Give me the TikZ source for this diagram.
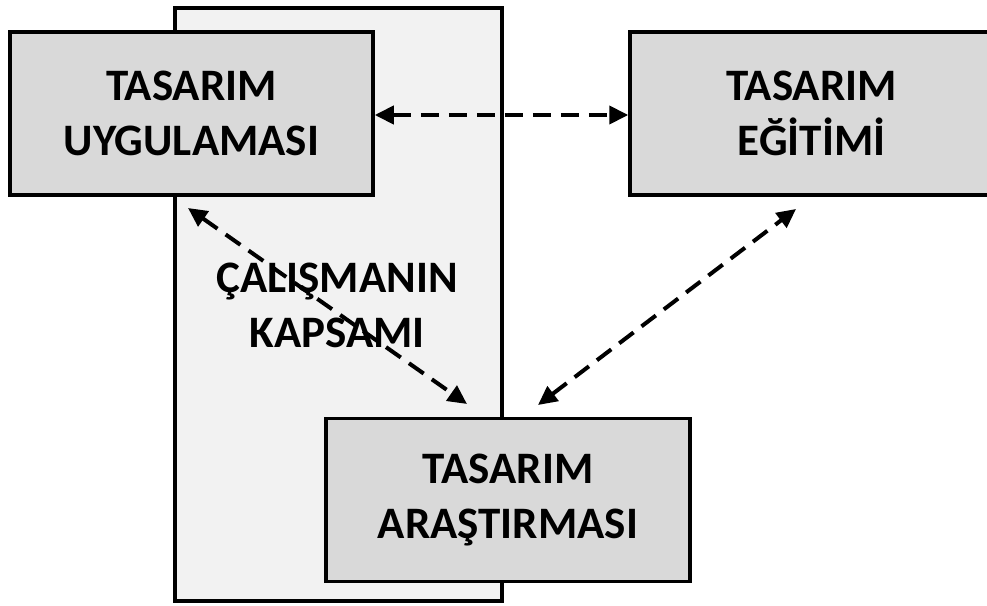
\documentclass[tikz,border=0pt]{standalone}
\usepackage{fontspec}
\setmainfont{Carlito}
\usetikzlibrary{arrows.meta}
\definecolor{boxgray}{HTML}{D9D9D9}
\definecolor{scopegray}{HTML}{F2F2F2}
\tikzset{
  topic/.style={draw=black, line width=3.5pt, fill=boxgray, minimum width=#1, minimum height=163pt,
    align=center, font=\fontsize{45}{55}\selectfont\bfseries, inner sep=0pt},
  link/.style={line width=4pt, dash pattern=on 18pt off 10pt,
    {Triangle[length=19pt,width=18pt]}-{Triangle[length=19pt,width=18pt]}},
  scopelabel/.style={align=center, font=\fontsize{45}{55}\selectfont\bfseries, inner sep=0pt}
}
\begin{document}
\begin{tikzpicture}[x=1pt,y=-1pt]
\useasboundingbox (0,0) rectangle (987,605);
\clip (0,0) rectangle (987,605);
% scope of the study
\draw[line width=3.5pt, fill=scopegray] (175,8) rectangle (502,601);
\node[scopelabel] (scope) at (337,305) {ÇALIŞMANIN\\KAPSAMI};
% the three fields (the right one runs past the page edge)
\node[topic=363pt] (uyg) at (191.5,113.5) {TASARIM\\UYGULAMASI};
\node[topic=363pt] (egt) at (811.5,113.5) {TASARIM\\EĞİTİMİ};
\node[topic=364pt] (ars) at (508,500) {TASARIM\\ARAŞTIRMASI};
% arrow end points
\coordinate (a1) at (188,208);
\coordinate (a2) at (467,404);
\coordinate (b1) at (538,405);
\coordinate (b2) at (796,209);
\draw[link] (uyg.east |- 0,115) -- (egt.west |- 0,115);
\draw[link] (a1) -- (a2);
\draw[link] (b1) -- (b2);
\end{tikzpicture}
\end{document}
